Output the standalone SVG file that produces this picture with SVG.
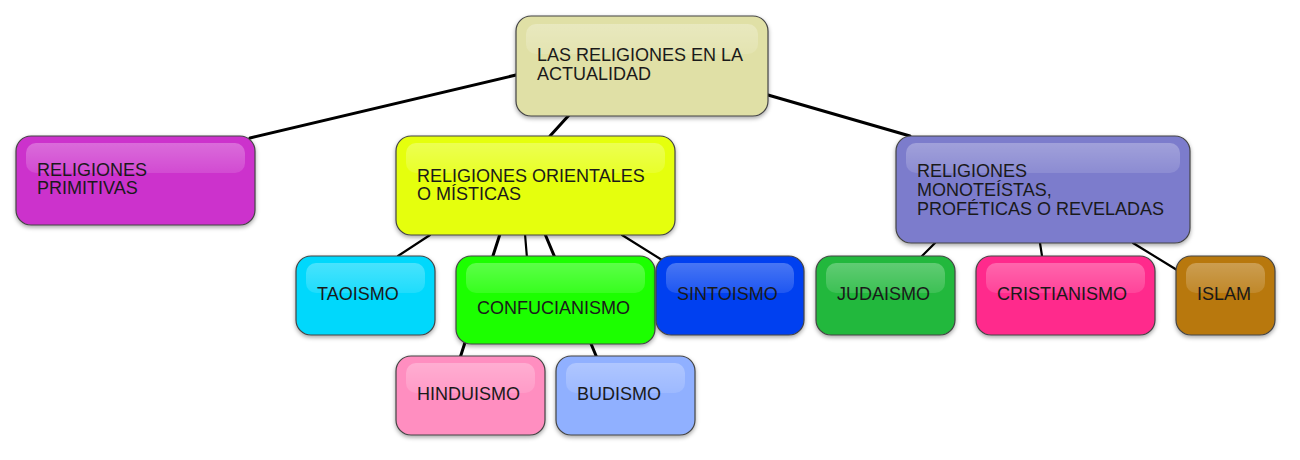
<svg xmlns="http://www.w3.org/2000/svg" width="1300" height="460" viewBox="0 0 1300 460">
<defs>
  <filter id="sh" x="-10%" y="-10%" width="120%" height="130%">
    <feDropShadow dx="0" dy="2" stdDeviation="2" flood-color="#000" flood-opacity="0.35"/>
  </filter>
  <linearGradient id="gl" x1="0" y1="0" x2="0" y2="1">
    <stop offset="0" stop-color="#fff" stop-opacity="0.28"/>
    <stop offset="1" stop-color="#fff" stop-opacity="0.12"/>
  </linearGradient>
</defs>
<style>
  .box{stroke:#444;stroke-width:1.2;filter:url(#sh)}
  .hl{fill:url(#gl)}
  .lb{font-family:"Liberation Sans",Arial,sans-serif;font-size:18px;fill:#1a1a1a}
  .cn{stroke:#000;stroke-width:3;stroke-linecap:round;fill:none}
  .cn2{stroke:#000;stroke-width:2.2;stroke-linecap:round;fill:none}
</style>
<rect width="1300" height="460" fill="#fff"/>
<g id="connectors">
  <line class="cn" x1="516" y1="75" x2="250" y2="138"/>
  <line class="cn" x1="570" y1="114" x2="550" y2="136"/>
  <line class="cn" x1="768" y1="95" x2="910" y2="136"/>
  <line class="cn2" x1="430" y1="235" x2="398" y2="256"/>
  <line class="cn" x1="500" y1="234" x2="460" y2="358"/>
  <line class="cn2" x1="525" y1="234" x2="527" y2="258"/>
  <line class="cn" x1="545" y1="234" x2="597" y2="358"/>
  <line class="cn2" x1="622" y1="235" x2="662" y2="260"/>
  <line class="cn2" x1="935" y1="243" x2="922" y2="256"/>
  <line class="cn2" x1="1040" y1="243" x2="1042" y2="256"/>
  <line class="cn2" x1="1133" y1="243" x2="1177" y2="270"/>
</g>
<g id="n-actualidad">
  <rect class="box" x="516" y="16" width="252" height="100" rx="15" fill="#e0e0a6"/>
  <rect class="hl" x="526" y="24" width="232" height="30" rx="10"/>
  <text class="lb" x="537" y="61">LAS RELIGIONES EN LA</text>
  <text class="lb" x="537" y="80">ACTUALIDAD</text>
</g>
<g id="n-primitivas">
  <rect class="box" x="16" y="136" width="239" height="89" rx="15" fill="#cc33cc"/>
  <rect class="hl" x="26" y="143" width="219" height="30" rx="10"/>
  <text class="lb" x="37" y="176">RELIGIONES</text>
  <text class="lb" x="37" y="194">PRIMITIVAS</text>
</g>
<g id="n-orientales">
  <rect class="box" x="396" y="136" width="279" height="99" rx="15" fill="#e5ff10"/>
  <rect class="hl" x="406" y="143" width="259" height="30" rx="10"/>
  <text class="lb" x="417" y="182">RELIGIONES ORIENTALES</text>
  <text class="lb" x="417" y="200">O MÍSTICAS</text>
</g>
<g id="n-monoteistas">
  <rect class="box" x="896" y="136" width="294" height="107" rx="15" fill="#7b7bcc"/>
  <rect class="hl" x="906" y="143" width="274" height="30" rx="10"/>
  <text class="lb" x="917" y="177">RELIGIONES</text>
  <text class="lb" x="917" y="196">MONOTEÍSTAS,</text>
  <text class="lb" x="917" y="215">PROFÉTICAS O REVELADAS</text>
</g>
<g id="n-taoismo">
  <rect class="box" x="296" y="256" width="139" height="79" rx="15" fill="#00d8fc"/>
  <rect class="hl" x="306" y="263" width="119" height="30" rx="10"/>
  <text class="lb" x="317" y="300">TAOISMO</text>
</g>
<g id="n-hinduismo">
  <rect class="box" x="396" y="356" width="149" height="79" rx="15" fill="#ff8ec0"/>
  <rect class="hl" x="406" y="363" width="129" height="30" rx="10"/>
  <text class="lb" x="417" y="400">HINDUISMO</text>
</g>
<g id="n-budismo">
  <rect class="box" x="556" y="356" width="139" height="79" rx="15" fill="#90b0ff"/>
  <rect class="hl" x="566" y="363" width="119" height="30" rx="10"/>
  <text class="lb" x="577" y="400">BUDISMO</text>
</g>
<g id="n-confucianismo">
  <rect class="box" x="456" y="256" width="199" height="88" rx="15" fill="#1aff00"/>
  <rect class="hl" x="466" y="263" width="179" height="30" rx="10"/>
  <text class="lb" x="477" y="314">CONFUCIANISMO</text>
</g>
<g id="n-sintoismo">
  <rect class="box" x="656" y="256" width="148" height="79" rx="15" fill="#0040f0"/>
  <rect class="hl" x="666" y="263" width="128" height="30" rx="10"/>
  <text class="lb" x="677" y="300">SINTOISMO</text>
</g>
<g id="n-judaismo">
  <rect class="box" x="816" y="256" width="139" height="79" rx="15" fill="#22b83c"/>
  <rect class="hl" x="826" y="263" width="119" height="30" rx="10"/>
  <text class="lb" x="837" y="300">JUDAISMO</text>
</g>
<g id="n-cristianismo">
  <rect class="box" x="976" y="256" width="179" height="79" rx="15" fill="#ff2a8c"/>
  <rect class="hl" x="986" y="263" width="159" height="30" rx="10"/>
  <text class="lb" x="997" y="300">CRISTIANISMO</text>
</g>
<g id="n-islam">
  <rect class="box" x="1176" y="256" width="99" height="79" rx="15" fill="#b87810"/>
  <rect class="hl" x="1186" y="263" width="79" height="30" rx="10"/>
  <text class="lb" x="1197" y="300">ISLAM</text>
</g>
</svg>
